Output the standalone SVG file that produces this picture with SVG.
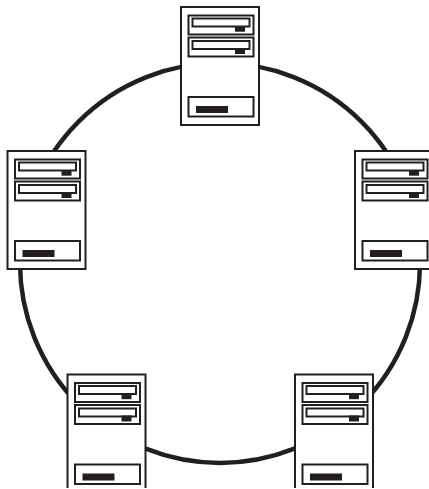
<svg xmlns="http://www.w3.org/2000/svg" xmlns:xlink="http://www.w3.org/1999/xlink" width="429" height="489" viewBox="0 0 429 489">
<style>
.ring{fill:none;stroke:#231f20;stroke-width:4.5}
.case{fill:#fff;stroke:#231f20;stroke-width:2}
.bay{fill:#fff;stroke:#231f20;stroke-width:2}
.ink{fill:#231f20}
</style>
<defs>
<g id="pc">
<rect class="case" x="0" y="0" width="78" height="118"/>
<rect class="bay" x="7.5" y="8.5" width="65" height="19"/>
<rect class="bay" x="11.5" y="11.5" width="57" height="8"/>
<rect class="ink" x="54" y="19" width="10" height="5.7"/>
<rect class="bay" x="7.5" y="30.5" width="65" height="19"/>
<rect class="bay" x="11.5" y="34" width="57" height="8"/>
<rect class="ink" x="54" y="41" width="10" height="6"/>
<rect class="bay" x="7.5" y="90" width="65" height="19.5"/>
<rect class="ink" x="15" y="99" width="32" height="7"/>
</g>
</defs>
<rect width="429" height="489" fill="#fff"/>
<g id="connectors"><circle class="ring" cx="220" cy="263" r="200"/></g>
<g id="node-top"><use href="#pc" x="181" y="7"/></g>
<g id="node-left"><use href="#pc" x="7.5" y="151"/></g>
<g id="node-right"><use href="#pc" x="355" y="151"/></g>
<g id="node-bottom-left"><use href="#pc" x="67.5" y="374.5"/></g>
<g id="node-bottom-right"><use href="#pc" x="295" y="374.5"/></g>
<rect x="0" y="488" width="429" height="1" fill="#fff"/>
</svg>
